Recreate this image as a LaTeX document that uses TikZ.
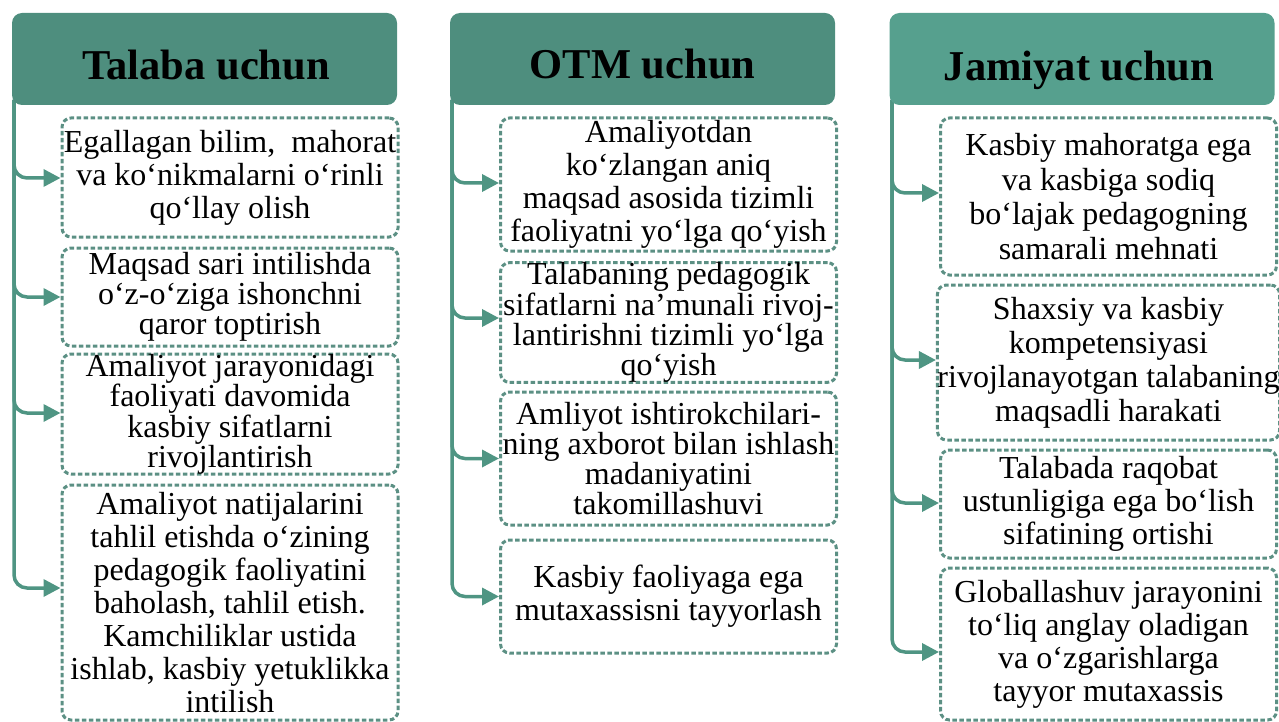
\documentclass[tikz,border=0pt]{standalone}
\usepackage{fontspec}
\setmainfont{Liberation Serif}
\usetikzlibrary{arrows.meta}
\definecolor{teal1}{HTML}{4E8E7E}
\definecolor{teal3}{HTML}{56A08E}
\definecolor{arrc}{HTML}{4F9583}
\definecolor{dashc}{HTML}{5C9084}
\begin{document}
\begin{tikzpicture}[x=1pt,y=-1pt,
 head/.style={fill=teal1, rounded corners=10pt, minimum width=385pt, minimum height=92pt, inner sep=0pt},
 headtxt/.style={font=\fontsize{42.5}{44}\selectfont\bfseries, text=black, inner sep=0pt, anchor=base},
 item/.style={draw=dashc, line width=3pt, dash pattern=on 4.5pt off 2.5pt, rounded corners=9pt, minimum width=336pt, inner sep=0pt, align=center, font=\fontsize{32}{33}\selectfont},
 tight/.style={font=\fontsize{32}{29}\selectfont},
 conn/.style={draw=arrc, line width=3.5pt, rounded corners=13pt, -{Triangle[length=17pt,width=17pt]}}
]
\useasboundingbox (0,0) rectangle (1279,722);

% column 1 boxes
\node[item, minimum height=119pt] (a1) at (230,177.5) {Egallagan bilim,\ \ mahorat\\va ko‘nikmalarni o‘rinli\\qo‘llay olish};
\node[item, tight, minimum height=98pt] (a2) at (230,297) {Maqsad sari intilishda\\o‘z-o‘ziga ishonchni\\qaror toptirish};
\node[item, tight, minimum height=118pt] (a3) at (230,414) {Amaliyot jarayonidagi\\faoliyati davomida\\kasbiy sifatlarni\\rivojlantirish};
\node[item, minimum height=235pt] (a4) at (230,602.5) {Amaliyot natijalarini\\tahlil etishda o‘zining\\pedagogik faoliyatini\\baholash, tahlil etish.\\Kamchiliklar ustida\\ishlab, kasbiy yetuklikka\\intilish};

% column 2 boxes
\node[item, minimum height=133pt] (b1) at (668.5,184.5) {Amaliyotdan\\ko‘zlangan aniq\\maqsad asosida tizimli\\faoliyatni yo‘lga qo‘yish};
\node[item, tight, minimum height=115pt] (b2) at (668.5,322.5) {Talabaning pedagogik\\sifatlarni na’munali rivoj-\\lantirishni tizimli yo‘lga\\qo‘yish};
\node[item, tight, minimum height=133pt] (b3) at (668.5,458.5) {Amliyot ishtirokchilari-\\ning axborot bilan ishlash\\madaniyatini\\takomillashuvi};
\node[item, minimum height=113pt] (b4) at (668.5,596.5) {Kasbiy faoliyaga ega\\mutaxassisni tayyorlash};

% column 3 boxes
\node[item, font=\fontsize{32}{34.5}\selectfont, minimum height=157pt] (c1) at (1108.5,196.5) {Kasbiy mahoratga ega\\va kasbiga sodiq\\bo‘lajak pedagogning\\samarali mehnati};
\node[item, font=\fontsize{32}{34}\selectfont, minimum height=155pt] (c2) at (1108.5,362.5) {Shaxsiy va kasbiy\\kompetensiyasi\\rivojlanayotgan talabaning\\maqsadli harakati};
\node[item, minimum height=108pt] (c3) at (1108.5,504) {Talabada raqobat\\ustunligiga ega bo‘lish\\sifatining ortishi};
\node[item, minimum height=152pt] (c4) at (1108.5,644) {Globallashuv jarayonini\\to‘liq anglay oladigan\\va o‘zgarishlarga\\tayyor mutaxassis};

% trunks
\coordinate (ta) at (14,100);
\coordinate (tb) at (452,100);
\coordinate (tc) at (892,100);

\draw[conn] (ta) |- ([yshift=-0.5pt]a1.west);
\draw[conn] (ta) |- (a2.west);
\draw[conn] (ta) |- ([yshift=1pt]a3.west);
\draw[conn] (ta) |- ([yshift=14.5pt]a4.west);

\draw[conn] (tb) |- ([yshift=1.5pt]b1.west);
\draw[conn] (tb) |- ([yshift=4.5pt]b2.west);
\draw[conn] (tb) |- (b3.west);
\draw[conn] (tb) |- (b4.west);

\draw[conn] (tc) |- ([yshift=3.5pt]c1.west);
\draw[conn] (tc) |- ([yshift=2.5pt]c2.west);
\draw[conn] (tc) |- ([yshift=1pt]c3.west);
\draw[conn] (tc) |- ([yshift=-8pt]c4.west);

% headers
\node[head] (h1) at (204.5,59) {};
\node[head] (h2) at (642.5,59) {};
\node[head, fill=teal3] (h3) at (1082,59) {};
\node[headtxt] (ht1) at (206,80) {Talaba uchun};
\node[headtxt] (ht2) at (642.5,79) {OTM uchun};
\node[headtxt] (ht3) at (1079,81) {Jamiyat uchun};
\end{tikzpicture}
\end{document}
